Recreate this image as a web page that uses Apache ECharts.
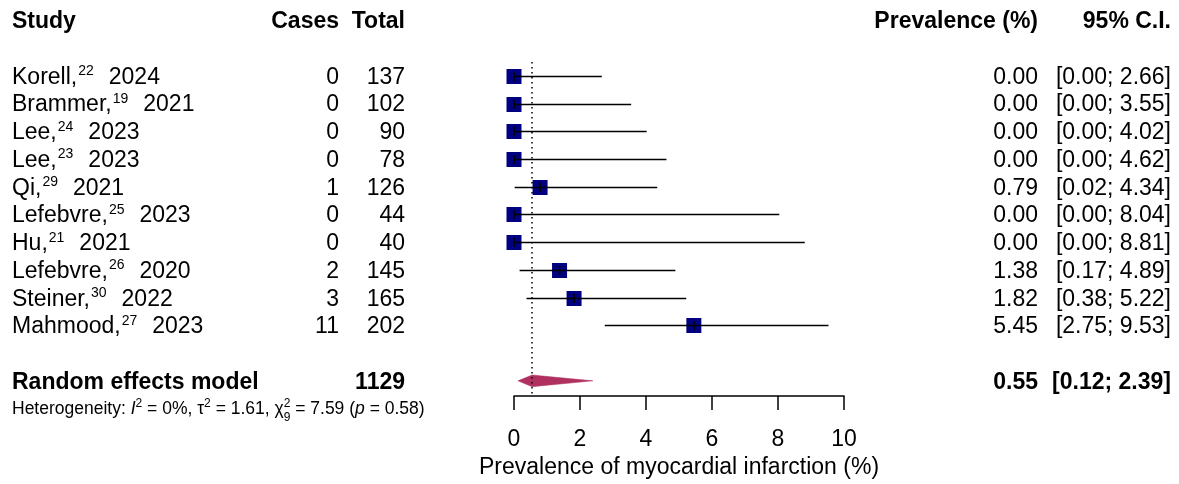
<!DOCTYPE html>
<html>
<head>
<meta charset="utf-8">
<script src="https://cdn.jsdelivr.net/npm/echarts@6/dist/echarts.min.js"></script>
<style>html,body{margin:0;padding:0;background:#fff}#c{width:1179px;height:484px}</style>
</head>
<body>
<div id="c"></div>
<script>
// ---------------- data ----------------
const studyNames = ['Korell', 'Brammer', 'Lee', 'Lee', 'Qi', 'Lefebvre', 'Hu', 'Lefebvre', 'Steiner', 'Mahmood'];
const refNumbers = ['22', '19', '24', '23', '29', '25', '21', '26', '30', '27'];
const studyYears = ['2024', '2021', '2023', '2023', '2021', '2023', '2021', '2020', '2022', '2023'];
const cases = [0, 0, 0, 0, 1, 0, 0, 2, 3, 11];
const totals = [137, 102, 90, 78, 126, 44, 40, 145, 165, 202];
const prevalence = [0.00, 0.00, 0.00, 0.00, 0.79, 0.00, 0.00, 1.38, 1.82, 5.45];
const ciLower = [0.00, 0.00, 0.00, 0.00, 0.02, 0.00, 0.00, 0.17, 0.38, 2.75];
const ciUpper = [2.66, 3.55, 4.02, 4.62, 4.34, 8.04, 8.81, 4.89, 5.22, 9.53];
const pooledLabel = 'Random effects model';
const pooledTotal = 1129;
const pooledEstimate = 0.55;
const pooledLower = 0.12;
const pooledUpper = 2.39;
const headerLabels = ['Study', 'Cases', 'Total', 'Prevalence (%)', '95% C.I.'];
const heterogeneity = { I2: '0%', tau2: '1.61', df: '9', Q: '7.59', p: '0.58' };
const xTicks = [0, 2, 4, 6, 8, 10];
const xAxisTitle = 'Prevalence of myocardial infarction (%)';

// ---------------- layout / style ----------------
const FONT = '"Liberation Sans", Arial, Helvetica, sans-serif';
const FS = 23;
const COL = { study: 12, cases: 339, total: 405, prev: 1038, ci: 1171 };
const TEXT_DY = 1.5;
const ROW_HEADER = -2, ROW_POOLED = 11, ROW_HET = 12;
const NAVY = '#000080', DIAMOND = '#B03060';

const measureCtx = document.createElement('canvas').getContext('2d');
function textWidth(str, size, style) {
  measureCtx.font = (style || '') + ' ' + size + 'px ' + FONT;
  return measureCtx.measureText(str).width;
}

const f2 = v => v.toFixed(2);

function txt(x, y, text, opts) {
  opts = opts || {};
  return {
    type: 'text', x: x, y: y + TEXT_DY, silent: true,
    style: Object.assign({
      text: text, fill: '#000', fontSize: FS, fontFamily: FONT,
      fontWeight: opts.bold ? 'bold' : 'normal',
      align: opts.align || 'left', verticalAlign: 'middle'
    }, opts.style || {})
  };
}

// table rows: [row, kind, index]
const tableRows = [];
tableRows.push([ROW_HEADER, 0, 0]);
studyNames.forEach((n, i) => tableRows.push([i, 1, i]));
tableRows.push([ROW_POOLED, 2, 0]);
tableRows.push([ROW_HET, 3, 0]);

const forestRows = studyNames.map((n, i) => [i, ciLower[i], ciUpper[i], prevalence[i]]);

function renderTable(params, api) {
  const row = api.value(0), kind = api.value(1), i = api.value(2);
  const y = api.coord([0, row])[1];
  const els = [];
  if (kind === 0) {
    els.push(txt(COL.study, y, headerLabels[0], { bold: true }));
    els.push(txt(COL.cases, y, headerLabels[1], { bold: true, align: 'right' }));
    els.push(txt(COL.total, y, headerLabels[2], { bold: true, align: 'right' }));
    els.push(txt(COL.prev, y, headerLabels[3], { bold: true, align: 'right' }));
    els.push(txt(COL.ci, y, headerLabels[4], { bold: true, align: 'right' }));
  } else if (kind === 1) {
    els.push(txt(COL.study, y,
      '{n|' + studyNames[i] + ',}{s|' + refNumbers[i] + '}{n|' + studyYears[i] + '}', {
        style: {
          rich: {
            n: { fontSize: FS, fontFamily: FONT, fill: '#000', lineHeight: 26 },
            s: { fontSize: 14, fontFamily: FONT, fill: '#000', lineHeight: 12, verticalAlign: 'top', padding: [0, 15, 0, 1] }
          }
        }
      }));
    els.push(txt(COL.cases, y, String(cases[i]), { align: 'right' }));
    els.push(txt(COL.total, y, String(totals[i]), { align: 'right' }));
    els.push(txt(COL.prev, y, f2(prevalence[i]), { align: 'right' }));
    els.push(txt(COL.ci, y, '[' + f2(ciLower[i]) + '; ' + f2(ciUpper[i]) + ']', { align: 'right' }));
  } else if (kind === 2) {
    els.push(txt(COL.study, y, pooledLabel, { bold: true }));
    els.push(txt(COL.total, y, String(pooledTotal), { bold: true, align: 'right' }));
    els.push(txt(COL.prev, y, f2(pooledEstimate), { bold: true, align: 'right' }));
    els.push(txt(COL.ci, y, '[' + f2(pooledLower) + '; ' + f2(pooledUpper) + ']', { bold: true, align: 'right' }));
  } else {
    const hs = 17.5, ss = 12;
    const h = heterogeneity;
    const richText = '{n|Heterogeneity: }{i|I}{s|2}{n| = ' + h.I2 + ', τ}{s|2}{n| = ' + h.tau2 +
      ', χ}{s|2}{n| = ' + h.Q + ' (}{i|p}{n| = ' + h.p + ')}';
    els.push(txt(COL.study, y - 1, richText, {
      style: {
        rich: {
          n: { fontSize: hs, fontFamily: FONT, fill: '#000', lineHeight: 22 },
          i: { fontSize: hs, fontFamily: FONT, fill: '#000', lineHeight: 22, fontStyle: 'italic' },
          s: { fontSize: ss, fontFamily: FONT, fill: '#000', lineHeight: 8, verticalAlign: 'top' }
        }
      }
    }));
    const pre = textWidth('Heterogeneity: ', hs) + textWidth('I', hs, 'italic') + textWidth('2', ss) +
      textWidth(' = ' + h.I2 + ', τ', hs) + textWidth('2', ss) + textWidth(' = ' + h.tau2 + ', χ', hs);
    els.push(txt(COL.study + pre, y + 8, h.df, { style: { fontSize: ss } }));
  }
  return { type: 'group', children: els };
}

function renderForest(params, api) {
  const row = api.value(0);
  const lo = api.coord([api.value(1), row]);
  const hi = api.coord([api.value(2), row]);
  const est = api.coord([api.value(3), row]);
  const yy = Math.round(est[1]) + 0.5;
  const sq = 15;
  return {
    type: 'group',
    children: [
      { type: 'rect', shape: { x: est[0] - sq / 2, y: yy - sq / 2, width: sq, height: sq },
        style: { fill: NAVY } },
      { type: 'line', shape: { x1: lo[0], y1: yy, x2: hi[0], y2: yy },
        style: { stroke: '#000', lineWidth: 1.6 } },
      { type: 'line', shape: { x1: est[0], y1: yy - 4.5, x2: est[0], y2: yy + 4.5 },
        style: { stroke: '#000', lineWidth: 1.6 } }
    ]
  };
}

function renderDiamond(params, api) {
  const row = api.value(0);
  const lo = api.coord([api.value(1), row]);
  const hi = api.coord([api.value(2), row]);
  const est = api.coord([api.value(3), row]);
  const hh = 5.8;
  return {
    type: 'polygon',
    shape: { points: [[lo[0], lo[1]], [est[0], est[1] - hh], [hi[0], hi[1]], [est[0], est[1] + hh]] },
    style: { fill: DIAMOND, stroke: DIAMOND, lineWidth: 0.5 }
  };
}

const chart = echarts.init(document.getElementById('c'), null, { renderer: 'canvas' });
chart.setOption({
  animation: false,
  backgroundColor: '#fff',
  grid: { left: 514, width: 330, top: 62, height: 336 },
  xAxis: {
    type: 'value', min: xTicks[0], max: xTicks[xTicks.length - 1], interval: 2,
    axisLine: { show: true, onZero: false, lineStyle: { color: '#000', width: 1.5 } },
    axisTick: { show: true, length: 14, lineStyle: { color: '#000', width: 1.5 } },
    splitLine: { show: false },
    axisLabel: { color: '#000', fontSize: FS, fontFamily: FONT, margin: 32 },
    name: xAxisTitle, nameLocation: 'middle', nameGap: 59,
    nameTextStyle: { color: '#000', fontSize: FS, fontFamily: FONT }
  },
  yAxis: { type: 'value', inverse: true, min: -0.5, max: 11.55, show: false },
  series: [
    {
      type: 'custom', renderItem: renderForest, data: forestRows, clip: false, silent: true,
      markLine: {
        silent: true, symbol: 'none', label: { show: false },
        lineStyle: { color: '#000', width: 1.5, type: [1.5, 3.5] },
        data: [{ xAxis: pooledEstimate }]
      }
    },
    {
      type: 'custom', renderItem: renderDiamond, clip: false, silent: true,
      data: [[ROW_POOLED, pooledLower, pooledUpper, pooledEstimate]]
    },
    { type: 'custom', renderItem: renderTable, data: tableRows, clip: false, silent: true }
  ]
});
</script>
</body>
</html>
